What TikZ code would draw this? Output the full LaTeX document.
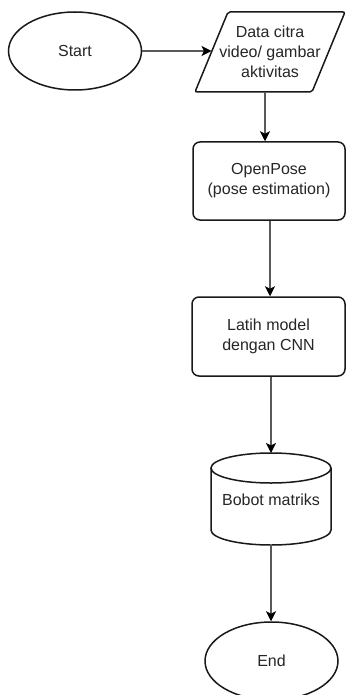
\documentclass[tikz,border=0pt]{standalone}
\usepackage{fontspec}
\setmainfont{Liberation Sans}
\usetikzlibrary{shapes.geometric,arrows.meta}
\begin{document}
\begin{tikzpicture}[x=1pt,y=-1pt,
  shapeline/.style={draw=black!90,line width=1.5pt,fill=white},
  txt/.style={font=\fontsize{16}{20}\selectfont,text=black!85,align=center,inner sep=0pt},
  conn/.style={draw=black!65,line width=1.2pt,-{Stealth[length=10pt,width=10pt,inset=2.5pt,color=black]}},
  terminal/.style={shapeline,txt,ellipse,minimum width=133pt,minimum height=78pt},
  procbox/.style={shapeline,txt,rectangle,rounded corners=7pt,minimum width=152pt,minimum height=78pt}]
\useasboundingbox (0,0) rectangle (347,695);
\clip (0,0) rectangle (347,695);
\fill[white] (0,0) rectangle (347,695);

% Start
\node[terminal] (start) at (75,51) {Start};

% Data (parallelogram)
\draw[shapeline,rounded corners=2pt] (228,12) -- (345,12) -- (312,92) -- (195,92) -- cycle;
\node[txt] (data) at (270,52) {Data citra\\video/ gambar\\aktivitas};
\coordinate (dataleft) at (211.5,51);
\coordinate (databot) at (265,92);

% OpenPose
\node[procbox] (openpose) at (269,181) {OpenPose\\(pose estimation)};

% Latih
\node[procbox,minimum width=153pt,minimum height=79pt] (latih) at (268.5,336.5) {Latih model\\dengan CNN};

% Cylinder
\draw[shapeline] (211,468) -- (211,530) arc[start angle=180,end angle=0,x radius=60,y radius=15] -- (331,468);
\draw[shapeline] (271,468) ellipse[x radius=60,y radius=15];
\node[txt] (bobot) at (271,500) {Bobot matriks};
\coordinate (cyltop) at (271,453);
\coordinate (cylbot) at (271,545);

% End
\node[terminal] (end) at (271.5,661) {End};

% Connectors
\draw[conn] (start.east) -- (dataleft);
\draw[conn] (databot) -- (databot |- openpose.north);
\draw[conn] (openpose.south -| 270,0) -- (latih.north -| 270,0);
\draw[conn] (latih.south -| 271,0) -- (cyltop);
\draw[conn] (cylbot) -- (end.north -| 271,0);
\end{tikzpicture}
\end{document}
